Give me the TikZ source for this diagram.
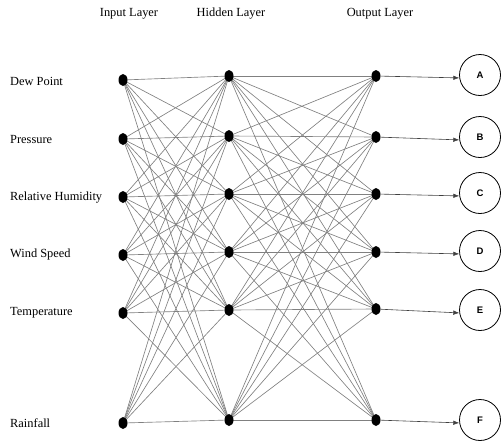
\documentclass[tikz,border=0pt]{standalone}
\usepackage{fontspec}
\setmainfont{Liberation Serif}
\newfontfamily\lettfont{Liberation Sans}
\usetikzlibrary{arrows.meta,shapes.geometric}
\begin{document}
\begin{tikzpicture}[x=1pt,y=-1pt,
  neuron/.style={ellipse,fill=black,inner sep=0pt,minimum width=9pt,minimum height=12pt},
  conn/.style={draw=black!50,line width=0.65pt},
  outcirc/.style={circle,draw=black,line width=0.8pt,minimum size=41pt,inner sep=0pt,font=\lettfont\bfseries\fontsize{9.5}{11}\selectfont},
  outarrow/.style={draw=black!75,line width=0.6pt,-{Latex[length=6pt,width=4.5pt]}},
  lbl/.style={anchor=west,inner sep=0pt,font=\fontsize{12.4}{14}\selectfont},
  head/.style={inner sep=0pt,font=\fontsize{12.4}{14}\selectfont}]
\useasboundingbox (0,0) rectangle (501,440);
% headers
\node[head] (hin) at (129,14) {Input Layer};
\node[head] (hhid) at (231,14) {Hidden Layer};
\node[head] (hout) at (380,14) {Output Layer};
% input labels
\node[lbl] (l1) at (10,81) {Dew Point};
\node[lbl] (l2) at (10,139) {Pressure};
\node[lbl] (l3) at (10,198) {Relative Humidity};
\node[lbl] (l4) at (10,255) {Wind Speed};
\node[lbl] (l5) at (10,313) {Temperature};
\node[lbl] (l6) at (10,423) {Rainfall};
% neuron positions
\foreach \n/\yi/\yh/\yo in {1/80/76/76, 2/139/136/137, 3/197/194/194, 4/255/252/252, 5/313/310/309, 6/423/420/420}{
  \coordinate (i\n) at (123,\yi);
  \coordinate (h\n) at (229,\yh);
  \coordinate (o\n) at (376,\yo);
}
% full connections
\foreach \a in {1,...,6}{
  \foreach \b in {1,...,6}{
    \draw[conn] (i\a) -- (h\b);
    \draw[conn] (h\a) -- (o\b);
  }
}
% neurons
\foreach \n in {1,...,6}{
  \node[neuron] (ni\n) at (i\n) {};
  \node[neuron] (nh\n) at (h\n) {};
  \node[neuron] (no\n) at (o\n) {};
}
% output circles
\foreach \n/\y/\t in {1/75/A, 2/137/B, 3/193/C, 4/251/D, 5/310/E, 6/420/F}{
  \node[outcirc] (c\n) at (480,\y) {\t};
  \draw[outarrow] (no\n) -- (c\n.188);
}
\end{tikzpicture}
\end{document}
